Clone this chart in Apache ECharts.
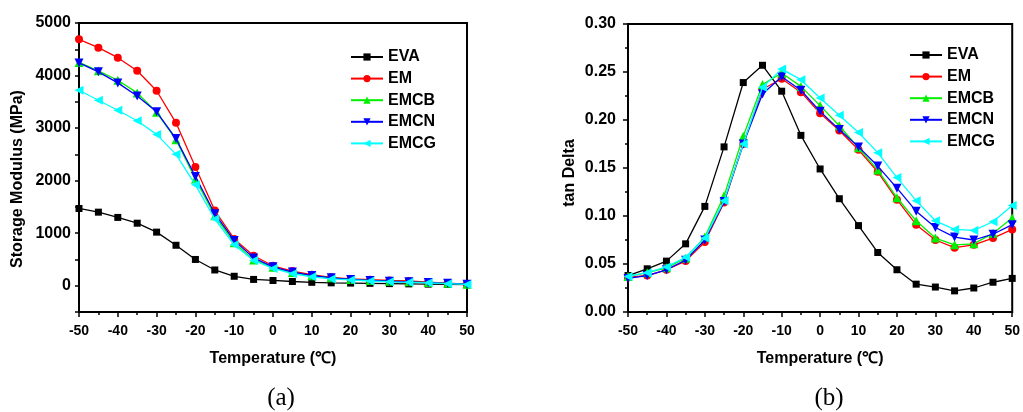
<!DOCTYPE html>
<html>
<head>
<meta charset="utf-8">
<script src="https://cdn.jsdelivr.net/npm/echarts@6/dist/echarts.min.js"></script>
<style>
    html, body { margin: 0; padding: 0; background: #fff; }
    #chart { width: 1023px; height: 412px; }
</style>
</head>
<body>
<div id="chart"></div>
<script>
const temps = [-50, -45, -40, -35, -30, -25, -20, -15, -10, -5, 0, 5, 10, 15, 20, 25, 30, 35, 40, 45, 50];
const seriesNames = ['EVA', 'EM', 'EMCB', 'EMCN', 'EMCG'];

// storage modulus (MPa)
const modEVA  = [1470, 1400, 1300, 1190, 1020, 770, 500, 300, 180, 120, 100, 80, 65, 55, 50, 45, 40, 35, 30, 25, 20];
const modEM   = [4690, 4530, 4340, 4090, 3710, 3100, 2260, 1430, 890, 570, 380, 280, 210, 160, 130, 115, 100, 90, 70, 50, 30];
const modEMCB = [4250, 4090, 3910, 3670, 3300, 2780, 2030, 1330, 820, 490, 350, 250, 190, 150, 120, 100, 85, 75, 60, 45, 30];
const modEMCN = [4240, 4070, 3860, 3610, 3310, 2800, 2080, 1370, 860, 530, 360, 260, 195, 150, 120, 100, 85, 75, 60, 45, 30];
const modEMCG = [3720, 3530, 3340, 3140, 2880, 2500, 1920, 1270, 780, 480, 330, 230, 170, 130, 110, 90, 75, 65, 55, 40, 25];

// tan delta
const tanEVA  = [0.038, 0.045, 0.053, 0.071, 0.110, 0.172, 0.239, 0.257, 0.230, 0.184, 0.149, 0.118, 0.090, 0.062, 0.044, 0.029, 0.026, 0.022, 0.025, 0.031, 0.035];
const tanEM   = [0.036, 0.038, 0.044, 0.053, 0.073, 0.114, 0.175, 0.232, 0.243, 0.229, 0.207, 0.189, 0.169, 0.146, 0.117, 0.091, 0.075, 0.067, 0.070, 0.077, 0.086];
const tanEMCB = [0.037, 0.041, 0.046, 0.056, 0.078, 0.121, 0.183, 0.237, 0.249, 0.235, 0.215, 0.194, 0.171, 0.148, 0.119, 0.095, 0.077, 0.070, 0.071, 0.082, 0.098];
const tanEMCN = [0.035, 0.038, 0.044, 0.054, 0.075, 0.115, 0.175, 0.227, 0.245, 0.231, 0.209, 0.190, 0.172, 0.152, 0.129, 0.105, 0.088, 0.078, 0.075, 0.081, 0.091];
const tanEMCG = [0.037, 0.041, 0.047, 0.057, 0.077, 0.116, 0.175, 0.234, 0.253, 0.242, 0.223, 0.205, 0.187, 0.166, 0.140, 0.116, 0.095, 0.086, 0.085, 0.094, 0.111];

const modData = [modEVA, modEM, modEMCB, modEMCN, modEMCG];
const tanData = [tanEVA, tanEM, tanEMCB, tanEMCN, tanEMCG];

const colors = ['#000000', '#ff0000', '#00f000', '#0000ff', '#00ffff'];
const symbols = ['rect', 'circle', 'triangle', 'triangle', 'triangle'];
const rotations = [0, 0, 0, 180, 90];
const sizes = [7, 8, 9, 9, 9];

const boldFont = '"Liberation Sans", Arial, sans-serif';
const serifFont = '"Liberation Serif", "Times New Roman", serif';

const chart = echarts.init(document.getElementById('chart'));

const makeSeries = (dataSets, axisIndex) => dataSets.map((vals, i) => ({
    name: seriesNames[i],
    type: 'line',
    xAxisIndex: axisIndex,
    yAxisIndex: axisIndex,
    data: temps.map((t, k) => [t, vals[k]]),
    symbol: symbols[i],
    symbolSize: sizes[i],
    symbolRotate: rotations[i],
    showAllSymbol: true,
    color: colors[i],
    lineStyle: { width: 1.3, color: colors[i] },
    itemStyle: { color: colors[i] },
    z: 2 + i,
}));

const xAxisCommon = (gridIndex) => ({
    type: 'value',
    gridIndex,
    min: -50,
    max: 50,
    interval: 10,
    name: 'Temperature (\u2103)',
    nameLocation: 'middle',
    nameGap: 39,
    nameTextStyle: { fontFamily: boldFont, fontWeight: 'bold', fontSize: 16, color: '#000' },
    axisLine: { onZero: false, lineStyle: { color: '#000', width: 2 } },
    axisTick: { inside: false, length: 5, lineStyle: { color: '#000', width: 1.5 } },
    minorTick: { show: true, splitNumber: 2, length: 3, lineStyle: { color: '#000', width: 1.5 } },
    axisLabel: { margin: 12, fontFamily: boldFont, fontWeight: 'bold', fontSize: 14, color: '#000' },
    splitLine: { show: false },
});

const legendCommon = (left, top) => ({
    data: seriesNames,
    orient: 'vertical',
    left,
    top,
    itemWidth: 32,
    itemHeight: 9,
    itemGap: 5.6,
    textStyle: { fontFamily: boldFont, fontWeight: 'bold', fontSize: 16, lineHeight: 16, color: '#000' },
    selectedMode: false,
});

// rotated axis title placed beside the y axis
const yTitle = (text, x, y) => ({
    type: 'text',
    x,
    y,
    rotation: Math.PI / 2,
    style: {
        text,
        font: 'bold 16px ' + boldFont,
        fill: '#000',
        align: 'center',
        verticalAlign: 'middle',
    },
});

const option = {
    backgroundColor: '#fff',
    animation: false,
    title: [
        { text: '(a)', left: 276, top: 381, textAlign: 'center',
          textStyle: { fontFamily: serifFont, fontWeight: 'normal', fontSize: 25, color: '#000' } },
        { text: '(b)', left: 824, top: 381, textAlign: 'center',
          textStyle: { fontFamily: serifFont, fontWeight: 'normal', fontSize: 25, color: '#000' } },
    ],
    graphic: [
        yTitle('Storage Modulus (MPa)', 18, 179),
        yTitle('tan Delta', 570, 173),
    ],
    legend: [legendCommon(345, 44), legendCommon(904, 42)],
    grid: [
        { left: 79, top: 23, width: 388, height: 289, show: true, borderColor: '#000', borderWidth: 2, backgroundColor: 'transparent' },
        { left: 628, top: 24, width: 387, height: 288, show: true, borderColor: '#000', borderWidth: 2, backgroundColor: 'transparent' },
    ],
    xAxis: [xAxisCommon(0), xAxisCommon(1)],
    yAxis: [
        {
            type: 'value',
            gridIndex: 0,
            min: -500,
            max: 5000,
            interval: 500,
            axisLine: { show: true, onZero: false, lineStyle: { color: '#000', width: 2 } },
            axisTick: { show: true, length: 4, lineStyle: { color: '#000', width: 1.5 } },
            axisLabel: {
                margin: 8, fontFamily: boldFont, fontWeight: 'bold', fontSize: 16, color: '#000',
                formatter: v => (v >= 0 && v % 1000 === 0) ? String(v) : '',
            },
            splitLine: { show: false },
        },
        {
            type: 'value',
            gridIndex: 1,
            min: 0,
            max: 0.30,
            interval: 0.05,
            axisLine: { show: true, onZero: false, lineStyle: { color: '#000', width: 2 } },
            axisTick: { show: true, length: 5, lineStyle: { color: '#000', width: 1.5 } },
            minorTick: { show: true, splitNumber: 2, length: 3, lineStyle: { color: '#000', width: 1.5 } },
            axisLabel: {
                margin: 12, fontFamily: boldFont, fontWeight: 'bold', fontSize: 16, color: '#000',
                formatter: v => v.toFixed(2),
            },
            splitLine: { show: false },
        },
    ],
    series: [...makeSeries(modData, 0), ...makeSeries(tanData, 1)],
};

chart.setOption(option);
</script>
</body>
</html>
